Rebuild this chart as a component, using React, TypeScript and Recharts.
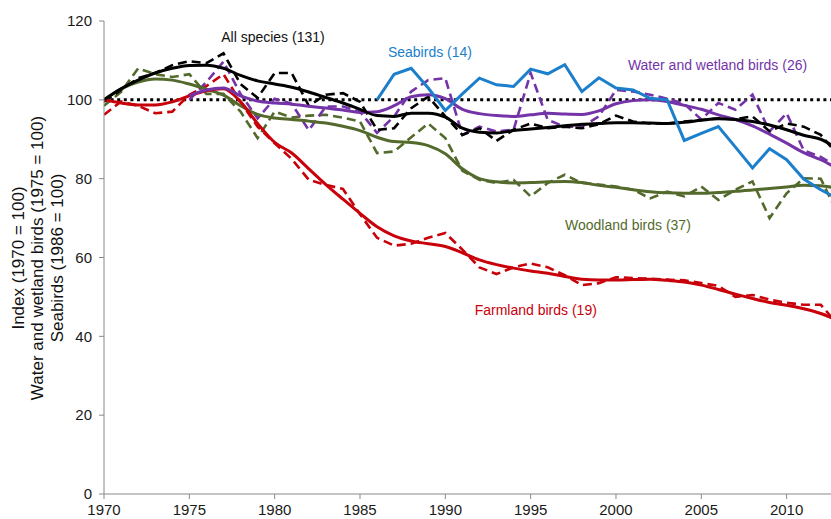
import {
  LineChart,
  Line,
  XAxis,
  YAxis,
  ReferenceLine,
  ReferenceDot,
} from "recharts";

const years = [
  1970, 1971, 1972, 1973, 1974, 1975, 1976, 1977, 1978, 1979,
  1980, 1981, 1982, 1983, 1984, 1985, 1986, 1987, 1988, 1989,
  1990, 1991, 1992, 1993, 1994, 1995, 1996, 1997, 1998, 1999,
  2000, 2001, 2002, 2003, 2004, 2005, 2006, 2007, 2008, 2009,
  2010, 2011, 2012, 2013,
];

// all species (131), annual index and smoothed trend
const allAnnual = [
  99.5, 102.5, 105.5, 106.8, 108.8, 109.8, 109.3, 111.8, 104, 100.5,
  106.8, 106.8, 98.5, 101.3, 101.7, 99.5, 92.4, 92.8, 97.9, 100.8,
  95.8, 91.1, 92.8, 89.6, 92.4, 94, 92.8, 93.2, 92.8, 93.8,
  96, 94.5, 94, 94, 94.5, 94.9, 95.3, 95.1, 95.8, 92,
  94, 93.2, 91.1, 86,
];
const allTrend = [
  100, 102.8, 105, 106.8, 108, 108.7, 108.8, 108, 106.2, 104.8,
  104, 103.2, 102, 100.6, 99.2, 97.6, 96, 95.8, 96.6, 96.6,
  95.6, 92.8, 91.8, 91.6, 92.2, 92.6, 93, 93.4, 93.8, 94,
  94.2, 94.2, 94.1, 94, 94.3, 94.8, 95.2, 95, 94.5, 93.6,
  92.4, 91, 90, 87.5,
];

// seabirds (14), 1986 = 100
const seaAnnual = [
  null, null, null, null, null, null, null, null, null, null,
  null, null, null, null, null, null, 100, 106.5, 108, 103,
  97.3, 101.5, 105.5, 103.8, 103.4, 107.8, 106.6, 108.9, 102.1, 105.6,
  103, 102.5, 100.4, 100, 89.7, 91.5, 93.2, 88, 82.7, 87.6,
  84.8, 79.9, 77.2, 74.9,
];

// water and wetland birds (26), 1975 = 100
const wetAnnual = [
  null, null, null, null, null, 100, 104.5, 109.7, 101.5, 95.3,
  100.3, 99, 92.3, 98.3, 98.3, 97, 91.6, 95.8, 102.1, 105,
  105.5, 91.1, 93.2, 92, 92.4, 106.8, 94.9, 93.2, 93.2, 95.8,
  102.5, 102.1, 101.3, 100.3, 99, 95, 99.2, 97.5, 101.3, 92,
  96.6, 87.2, 85.5, 83,
];
const wetTrend = [
  null, null, null, null, null, 101, 102.5, 103, 101, 99.7,
  99.2, 98.9, 98.4, 97.9, 97.4, 96.8, 97, 98.5, 100.8, 101.3,
  100.3, 97.6, 96.5, 96, 95.8, 96.2, 96.6, 96.4, 96.3, 97.2,
  99, 99.8, 100, 99.6, 98.6, 97.6, 96.2, 95, 93.4, 91.3,
  89, 86.6, 84.8, 82.5,
];

// woodland birds (37)
const woodAnnual = [
  98.5, 102, 108, 106.5, 105.8, 106.5, 101.5, 101.5, 97, 90.3,
  97, 95.5, 96, 96.2, 95.5, 94.5, 86.5, 86.9, 90.5, 94,
  90.3, 82, 79.7, 78.9, 79.7, 75.5, 78.9, 81, 78.9, 78.5,
  78, 77.2, 75, 76.7, 75.5, 78, 74.6, 77.2, 79.3, 70,
  76.3, 80.1, 80, 71,
];
const woodTrend = [
  100, 102.8, 104.5, 105.3, 105, 104, 102.7, 101.2, 98.5, 96.3,
  95.4, 95, 94.6, 94.1, 93.3, 92.2, 90.5, 89.4, 89.2, 88.4,
  86.3, 82.5, 80, 79.2, 78.9, 79, 79.2, 79.3, 79, 78.3,
  77.8, 77.2, 76.7, 76.4, 76.3, 76.3, 76.5, 76.8, 77.1, 77.5,
  77.9, 78.3, 78.2, 77.5,
];

// farmland birds (19)
const farmAnnual = [
  96.2, 99.6, 98.5, 96.6, 97, 101.3, 103.5, 106.5, 99.5, 93.2,
  89, 85, 79.7, 78.4, 77.4, 71, 65, 63, 63.5, 65,
  66.2, 62, 57.5, 55.8, 57.5, 58.5, 57.5, 55.5, 53, 53.5,
  55, 54.8, 54.6, 54.4, 54.2, 53.5, 52.8, 50, 50.5, 49.3,
  48.5, 48, 48, 43,
];
const farmTrend = [
  100, 99.2, 98.7, 98.7, 99.5, 101, 102.3, 102.8, 99.5, 94,
  89.2, 86.5, 82.5, 78.5, 74.8, 71.2, 67.8, 65.5, 64.2, 63.5,
  62.8, 61.2, 59.4, 58.2, 57.3, 56.6, 56, 55.2, 54.5, 54.3,
  54.3, 54.4, 54.5, 54.2, 53.8, 53, 51.9, 50.7, 49.6, 48.6,
  47.9, 47, 45.8, 44,
];

const xTicks = [1970, 1975, 1980, 1985, 1990, 1995, 2000, 2005, 2010];
const yTicks = [0, 20, 40, 60, 80, 100, 120];

const data = years.map((year, i) => ({
  year,
  allAnnual: allAnnual[i],
  allTrend: allTrend[i],
  seaAnnual: seaAnnual[i],
  wetAnnual: wetAnnual[i],
  wetTrend: wetTrend[i],
  woodAnnual: woodAnnual[i],
  woodTrend: woodTrend[i],
  farmAnnual: farmAnnual[i],
  farmTrend: farmTrend[i],
}));

const FONT = "'Liberation Sans', Arial, sans-serif";
const BLACK = "#000000";
const BLUE = "#1b7fcc";
const PURPLE = "#7434a8";
const GREEN = "#536a2c";
const RED = "#c8000a";
const DASH = "9 5";

const annotations = [
  { x: 1979.9, y: 116, text: "All species (131)", color: "#111" },
  { x: 1989.1, y: 112.2, text: "Seabirds (14)", color: BLUE },
  { x: 2005.95, y: 108.9, text: "Water and wetland birds (26)", color: PURPLE },
  { x: 2000.7, y: 68.3, text: "Woodland birds (37)", color: GREEN },
  { x: 1995.3, y: 46.7, text: "Farmland birds (19)", color: RED },
];

const yTitle = [
  "Index (1970 = 100)",
  "Water and wetland birds (1975 = 100)",
  "Seabirds (1986 = 100)",
];

function YTitle() {
  return (
    <g>
      {yTitle.map((line, i) => (
        <text
          key={line}
          transform={`translate(${18 + i * 19.5}, 258) rotate(-90)`}
          textAnchor="middle"
          dominantBaseline="central"
          fontFamily={FONT}
          fontSize={17}
          fill="#111"
        >
          {line}
        </text>
      ))}
    </g>
  );
}

export default function App() {
  return (
    <div style={{ position: "absolute", left: 0, top: 0, background: "#fff" }}>
      <LineChart
        width={831}
        height={519}
        data={data}
        margin={{ top: 21, right: 0, bottom: 0, left: 0 }}
      >
        <XAxis
          dataKey="year"
          type="number"
          domain={[1970, 2012.6]}
          allowDataOverflow
          ticks={xTicks}
          height={25}
          stroke="#888"
          tickSize={5}
          tickMargin={5}
          tick={{ fontSize: 15, fill: "#1a1a1a", fontFamily: FONT }}
        />
        <YAxis
          type="number"
          domain={[0, 120]}
          ticks={yTicks}
          width={104}
          stroke="#888"
          tickSize={5}
          tickMargin={7}
          tick={{ fontSize: 15, fill: "#1a1a1a", fontFamily: FONT }}
          label={<YTitle />}
        />
        <ReferenceLine y={100} stroke="#000" strokeWidth={3} strokeDasharray="3 3.6" />

        <Line type="linear" dataKey="woodAnnual" stroke={GREEN} strokeWidth={2.6} strokeDasharray={DASH} dot={false} activeDot={false} isAnimationActive={false} />
        <Line type="linear" dataKey="farmAnnual" stroke={RED} strokeWidth={2.6} strokeDasharray={DASH} dot={false} activeDot={false} isAnimationActive={false} />
        <Line type="linear" dataKey="wetAnnual" stroke={PURPLE} strokeWidth={2.6} strokeDasharray={DASH} dot={false} activeDot={false} isAnimationActive={false} />
        <Line type="linear" dataKey="allAnnual" stroke={BLACK} strokeWidth={2.6} strokeDasharray={DASH} dot={false} activeDot={false} isAnimationActive={false} />

        <Line type="monotone" dataKey="woodTrend" stroke={GREEN} strokeWidth={3} dot={false} activeDot={false} isAnimationActive={false} />
        <Line type="monotone" dataKey="farmTrend" stroke={RED} strokeWidth={3} dot={false} activeDot={false} isAnimationActive={false} />
        <Line type="monotone" dataKey="wetTrend" stroke={PURPLE} strokeWidth={3} dot={false} activeDot={false} isAnimationActive={false} />
        <Line type="monotone" dataKey="allTrend" stroke={BLACK} strokeWidth={3} dot={false} activeDot={false} isAnimationActive={false} />
        <Line type="linear" dataKey="seaAnnual" stroke={BLUE} strokeWidth={3} dot={false} activeDot={false} isAnimationActive={false} />

        {annotations.map((a) => (
          <ReferenceDot
            key={a.text}
            x={a.x}
            y={a.y}
            r={0}
            fill="none"
            stroke="none"
            label={{
              value: a.text,
              position: "center",
              fill: a.color,
              fontSize: 14,
              fontFamily: FONT,
            }}
          />
        ))}
      </LineChart>
    </div>
  );
}
